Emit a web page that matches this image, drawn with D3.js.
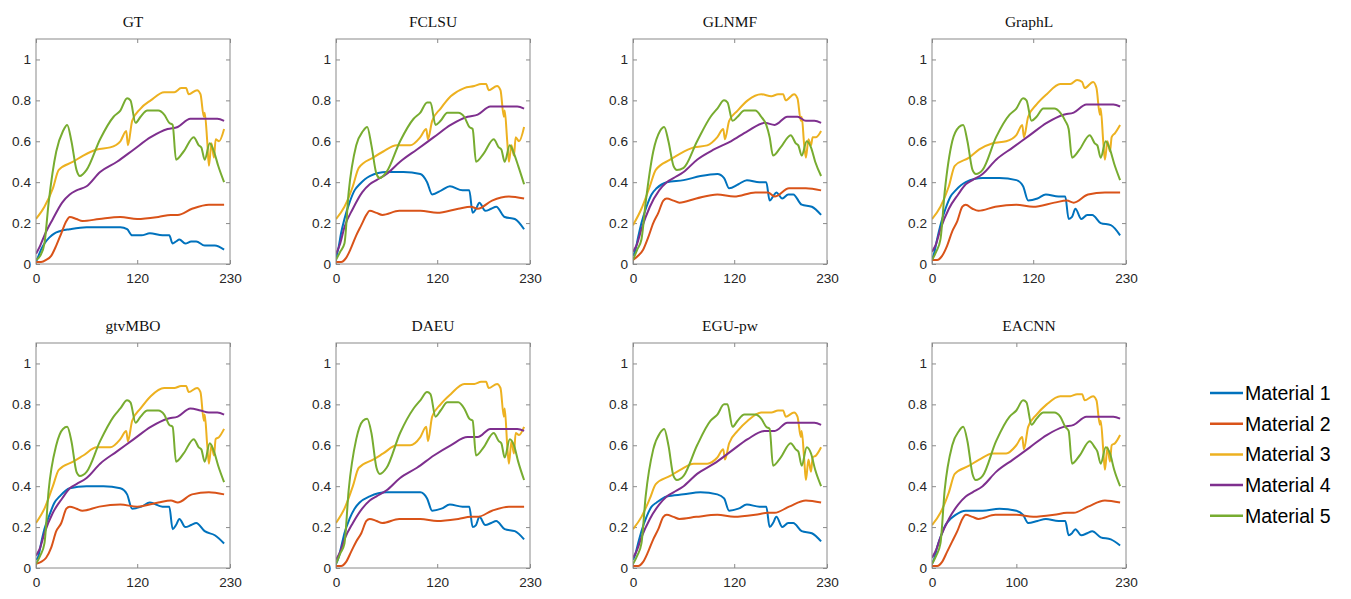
<!DOCTYPE html>
<html>
<head>
<meta charset="utf-8">
<script src="https://cdn.jsdelivr.net/npm/d3@7"></script>
<style>
  body { margin: 0; background: #fff; }
  .axis text { font-family: "Liberation Sans", Arial, sans-serif; font-size: 13.6px; fill: #262626; }
  .axis line { stroke: #8a8a8a; }
  .title { font-family: "Liberation Serif", "Times New Roman", serif; font-size: 15.5px; fill: #111; }
  .legend text { font-family: "Liberation Sans", Arial, sans-serif; font-size: 19.5px; fill: #000; }
</style>
</head>
<body>
<svg id="chart"></svg>
<script>
const panelTitles = ['GT', 'FCLSU', 'GLNMF', 'GraphL', 'gtvMBO', 'DAEU', 'EGU-pw', 'EACNN'];
const xTicks = [[0,120,230],[0,120,230],[0,120,230],[0,120,230],[0,120,230],[0,120,230],[0,120,230],[0,100,230]];
const yTicks = [0, 0.2, 0.4, 0.6, 0.8, 1];
const yTickLabels = ['0', '0.2', '0.4', '0.6', '0.8', '1'];
const materials = ['Material 1', 'Material 2', 'Material 3', 'Material 4', 'Material 5'];
const colors = ['#0072BD', '#D95319', '#EDB120', '#7E2F8E', '#77AC30'];

// sample positions (pixel index) for each material, shared by all panels
const m1X = [0, 3, 6, 10, 16, 22, 28, 40, 60, 80, 100, 108, 114, 125, 135, 150, 158, 162, 166, 170, 177, 184, 190, 200, 212, 223];
const m2X = [0, 6, 12, 18, 24, 30, 36, 40, 48, 55, 75, 100, 120, 145, 160, 168, 185, 205, 223];
const m3X = [0, 10, 20, 27, 44, 56, 72, 88, 100, 107, 109, 114, 124, 136, 152, 164, 172, 178, 181, 191, 195, 199, 200, 203, 205, 208, 211, 213, 217, 223];
const m4X = [0, 5, 10, 20, 31, 40, 48, 60, 76, 96, 116, 136, 156, 168, 183, 195, 205, 215, 223];
const m5X = [0, 5, 10, 15, 24, 32, 37, 42, 48, 52, 60, 76, 92, 100, 108, 112, 118, 124, 132, 145, 152, 158, 162, 166, 175, 187, 193, 196, 200, 206, 211, 216, 223];

// abundance values, one row per panel (same order as panelTitles)
const m1Vals = [
  [0.01,0.04,0.07,0.10,0.13,0.15,0.16,0.17,0.18,0.18,0.18,0.17,0.14,0.14,0.15,0.14,0.14,0.10,0.11,0.12,0.10,0.11,0.11,0.09,0.09,0.07],
  [0.03,0.08,0.15,0.22,0.30,0.36,0.39,0.43,0.45,0.45,0.44,0.40,0.34,0.36,0.38,0.36,0.36,0.25,0.27,0.30,0.26,0.27,0.28,0.23,0.22,0.17],
  [0.04,0.07,0.13,0.20,0.28,0.34,0.37,0.40,0.41,0.43,0.44,0.42,0.37,0.39,0.41,0.40,0.40,0.31,0.33,0.35,0.32,0.34,0.34,0.29,0.28,0.24],
  [0.02,0.06,0.12,0.19,0.27,0.33,0.36,0.40,0.42,0.42,0.41,0.38,0.31,0.32,0.34,0.33,0.33,0.22,0.23,0.27,0.22,0.24,0.24,0.20,0.19,0.14],
  [0.04,0.06,0.12,0.19,0.26,0.32,0.35,0.39,0.40,0.40,0.39,0.36,0.29,0.30,0.32,0.30,0.30,0.19,0.21,0.24,0.20,0.21,0.22,0.18,0.16,0.12],
  [0.02,0.05,0.10,0.17,0.24,0.29,0.32,0.35,0.37,0.37,0.37,0.34,0.28,0.29,0.31,0.30,0.30,0.20,0.21,0.25,0.21,0.22,0.23,0.19,0.18,0.14],
  [0.04,0.07,0.12,0.18,0.25,0.30,0.32,0.35,0.36,0.37,0.36,0.34,0.28,0.29,0.31,0.30,0.30,0.20,0.22,0.25,0.20,0.22,0.22,0.18,0.17,0.13],
  [0.02,0.05,0.10,0.15,0.21,0.24,0.26,0.28,0.28,0.29,0.28,0.26,0.22,0.23,0.24,0.23,0.23,0.16,0.17,0.19,0.16,0.17,0.18,0.15,0.14,0.11]
];
const m2Vals = [
  [0.01,0.01,0.02,0.04,0.09,0.15,0.21,0.23,0.22,0.21,0.22,0.23,0.22,0.23,0.24,0.24,0.27,0.29,0.29],
  [0.01,0.01,0.03,0.08,0.14,0.19,0.24,0.26,0.25,0.24,0.26,0.26,0.25,0.27,0.28,0.27,0.31,0.33,0.32],
  [0.02,0.04,0.07,0.13,0.20,0.25,0.31,0.32,0.31,0.30,0.32,0.34,0.33,0.35,0.35,0.33,0.37,0.37,0.36],
  [0.02,0.02,0.04,0.09,0.16,0.21,0.28,0.29,0.27,0.26,0.28,0.29,0.28,0.30,0.31,0.30,0.34,0.35,0.35],
  [0.02,0.03,0.05,0.10,0.18,0.22,0.29,0.30,0.29,0.28,0.30,0.31,0.30,0.32,0.33,0.32,0.36,0.37,0.36],
  [0.01,0.01,0.03,0.08,0.13,0.17,0.23,0.24,0.23,0.22,0.24,0.24,0.23,0.24,0.25,0.25,0.28,0.30,0.30],
  [0.01,0.01,0.03,0.08,0.14,0.19,0.25,0.26,0.25,0.24,0.25,0.26,0.25,0.26,0.27,0.27,0.30,0.33,0.32],
  [0.01,0.01,0.03,0.08,0.13,0.18,0.24,0.26,0.25,0.24,0.26,0.26,0.25,0.26,0.27,0.27,0.30,0.33,0.32]
];
const m3Vals = [
  [0.22,0.28,0.37,0.46,0.50,0.53,0.56,0.57,0.60,0.65,0.58,0.70,0.76,0.80,0.84,0.84,0.86,0.86,0.83,0.85,0.83,0.72,0.74,0.60,0.48,0.59,0.52,0.61,0.60,0.66],
  [0.22,0.28,0.38,0.47,0.52,0.55,0.58,0.58,0.62,0.66,0.61,0.70,0.76,0.82,0.86,0.87,0.88,0.88,0.85,0.87,0.85,0.72,0.75,0.60,0.50,0.58,0.53,0.62,0.60,0.67],
  [0.19,0.27,0.38,0.46,0.51,0.54,0.57,0.58,0.62,0.66,0.61,0.70,0.75,0.80,0.83,0.82,0.83,0.83,0.80,0.83,0.81,0.70,0.72,0.58,0.52,0.61,0.58,0.62,0.62,0.65],
  [0.22,0.28,0.38,0.48,0.52,0.56,0.59,0.60,0.63,0.68,0.62,0.72,0.78,0.83,0.88,0.88,0.90,0.89,0.86,0.89,0.86,0.73,0.76,0.60,0.51,0.60,0.55,0.62,0.64,0.68],
  [0.22,0.29,0.40,0.48,0.52,0.55,0.59,0.59,0.63,0.67,0.62,0.72,0.78,0.84,0.88,0.88,0.89,0.89,0.86,0.88,0.86,0.72,0.75,0.60,0.51,0.60,0.55,0.63,0.64,0.68],
  [0.22,0.29,0.40,0.49,0.53,0.56,0.60,0.60,0.64,0.69,0.62,0.74,0.80,0.85,0.90,0.90,0.91,0.91,0.88,0.90,0.88,0.74,0.78,0.60,0.51,0.62,0.56,0.66,0.65,0.69],
  [0.19,0.25,0.34,0.41,0.45,0.48,0.51,0.51,0.54,0.58,0.53,0.61,0.67,0.72,0.76,0.76,0.77,0.77,0.74,0.76,0.74,0.64,0.67,0.53,0.43,0.53,0.47,0.54,0.55,0.59],
  [0.21,0.27,0.37,0.46,0.50,0.53,0.56,0.56,0.60,0.64,0.58,0.69,0.75,0.80,0.84,0.84,0.85,0.85,0.82,0.84,0.82,0.70,0.72,0.58,0.48,0.59,0.52,0.60,0.61,0.65]
];
const m4Vals = [
  [0.05,0.09,0.14,0.22,0.30,0.34,0.36,0.38,0.45,0.50,0.56,0.62,0.66,0.67,0.71,0.71,0.71,0.71,0.70],
  [0.05,0.10,0.18,0.27,0.35,0.39,0.41,0.44,0.50,0.56,0.62,0.68,0.72,0.73,0.77,0.77,0.77,0.77,0.76],
  [0.06,0.10,0.17,0.28,0.36,0.40,0.42,0.45,0.51,0.56,0.60,0.65,0.69,0.68,0.72,0.72,0.70,0.70,0.69],
  [0.06,0.10,0.17,0.27,0.34,0.39,0.41,0.44,0.51,0.57,0.63,0.69,0.73,0.74,0.78,0.78,0.78,0.78,0.77],
  [0.06,0.10,0.17,0.27,0.34,0.39,0.41,0.44,0.51,0.57,0.63,0.69,0.73,0.74,0.78,0.77,0.76,0.76,0.75],
  [0.04,0.08,0.14,0.22,0.29,0.33,0.35,0.38,0.44,0.49,0.55,0.60,0.64,0.64,0.68,0.68,0.68,0.68,0.67],
  [0.05,0.09,0.15,0.24,0.31,0.35,0.37,0.40,0.46,0.51,0.57,0.63,0.67,0.67,0.71,0.71,0.71,0.71,0.70],
  [0.05,0.09,0.15,0.24,0.31,0.35,0.37,0.40,0.47,0.53,0.59,0.65,0.69,0.70,0.74,0.74,0.74,0.74,0.73]
];
const m5Vals = [
  [0.02,0.04,0.10,0.30,0.55,0.65,0.68,0.60,0.46,0.43,0.46,0.61,0.72,0.75,0.81,0.80,0.69,0.72,0.75,0.75,0.73,0.69,0.68,0.51,0.55,0.62,0.58,0.57,0.51,0.59,0.55,0.48,0.40],
  [0.02,0.06,0.10,0.35,0.58,0.65,0.67,0.58,0.44,0.42,0.45,0.60,0.71,0.74,0.79,0.79,0.68,0.70,0.74,0.74,0.72,0.67,0.66,0.50,0.54,0.61,0.57,0.56,0.50,0.58,0.54,0.48,0.39],
  [0.02,0.07,0.12,0.30,0.55,0.65,0.67,0.60,0.48,0.46,0.47,0.60,0.72,0.76,0.80,0.79,0.70,0.72,0.75,0.75,0.72,0.68,0.62,0.53,0.57,0.63,0.59,0.58,0.53,0.60,0.57,0.50,0.43],
  [0.02,0.06,0.12,0.35,0.60,0.67,0.68,0.60,0.46,0.44,0.46,0.62,0.73,0.76,0.81,0.80,0.70,0.72,0.76,0.76,0.74,0.70,0.66,0.52,0.56,0.63,0.59,0.58,0.52,0.60,0.56,0.49,0.41],
  [0.02,0.06,0.12,0.38,0.60,0.68,0.69,0.62,0.47,0.45,0.47,0.62,0.74,0.78,0.82,0.81,0.71,0.74,0.77,0.77,0.75,0.70,0.69,0.52,0.56,0.63,0.59,0.58,0.52,0.61,0.57,0.50,0.42],
  [0.02,0.07,0.12,0.38,0.63,0.72,0.73,0.66,0.49,0.46,0.49,0.66,0.78,0.82,0.86,0.85,0.74,0.77,0.81,0.81,0.78,0.73,0.72,0.55,0.59,0.66,0.62,0.61,0.54,0.63,0.60,0.52,0.43],
  [0.02,0.06,0.12,0.35,0.58,0.66,0.68,0.60,0.45,0.43,0.45,0.60,0.72,0.75,0.80,0.80,0.69,0.72,0.75,0.75,0.73,0.69,0.68,0.50,0.54,0.61,0.58,0.57,0.50,0.59,0.56,0.48,0.40],
  [0.02,0.06,0.12,0.38,0.60,0.67,0.69,0.62,0.46,0.43,0.45,0.62,0.74,0.77,0.82,0.81,0.70,0.73,0.76,0.76,0.74,0.69,0.67,0.51,0.55,0.62,0.59,0.57,0.51,0.59,0.56,0.48,0.40]
];

const seriesX = [m1X, m2X, m3X, m4X, m5X];
const seriesVals = [m1Vals, m2Vals, m3Vals, m4Vals, m5Vals];

class AbundancePanel {

  constructor(_config, _lines) {
    this.config = {
      parent: _config.parent,
      left: _config.left,
      top: _config.top,
      width: _config.width || 194,
      height: _config.height || 225,
      title: _config.title,
      xTicks: _config.xTicks,
      idx: _config.idx
    };
    this.lines = _lines;
    this.initVis();
  }

  initVis() {
    let vis = this;
    let w = vis.config.width, h = vis.config.height;

    vis.g = vis.config.parent.append('g')
      .attr('transform', `translate(${vis.config.left},${vis.config.top})`);

    vis.xScale = d3.scaleLinear().domain([0, 230]).range([0, w]);
    vis.yScale = d3.scaleLinear().domain([0, 1.1]).range([h, 0]);

    // MATLAB style: ticks pointing inwards on all four sides
    vis.g.append('g').attr('class', 'axis')
      .call(d3.axisLeft(vis.yScale).tickValues(yTicks).tickSize(-4).tickPadding(5)
        .tickFormat((d, i) => yTickLabels[i]))
      .call(g => g.select('.domain').remove());
    vis.g.append('g').attr('class', 'axis')
      .attr('transform', `translate(${w},0)`)
      .call(d3.axisRight(vis.yScale).tickValues(yTicks).tickSize(-4).tickFormat(''))
      .call(g => g.select('.domain').remove());
    vis.g.append('g').attr('class', 'axis')
      .attr('transform', `translate(0,${h})`)
      .call(d3.axisBottom(vis.xScale).tickValues(vis.config.xTicks).tickSize(-4).tickPadding(9))
      .call(g => g.select('.domain').remove());
    vis.g.append('g').attr('class', 'axis')
      .call(d3.axisTop(vis.xScale).tickValues(vis.config.xTicks).tickSize(-4).tickFormat(''))
      .call(g => g.select('.domain').remove());

    vis.g.append('clipPath').attr('id', 'clip' + vis.config.idx)
      .append('rect').attr('width', w).attr('height', h);

    vis.line = d3.line()
      .x(d => vis.xScale(d[0]))
      .y(d => vis.yScale(d[1]))
      .curve(d3.curveMonotoneX);

    vis.g.append('g')
      .attr('clip-path', `url(#clip${vis.config.idx})`)
      .selectAll('path')
      .data(vis.lines)
      .enter()
      .append('path')
        .attr('fill', 'none')
        .attr('stroke', (d, i) => colors[i])
        .attr('stroke-width', 2)
        .attr('stroke-linejoin', 'round')
        .attr('d', d => vis.line(d));

    vis.g.append('rect')
      .attr('width', w).attr('height', h)
      .attr('fill', 'none')
      .attr('stroke', '#8a8a8a')
      .attr('stroke-width', 1);

    vis.g.append('text')
      .attr('class', 'title')
      .attr('x', w / 2)
      .attr('y', -12)
      .attr('text-anchor', 'middle')
      .text(vis.config.title);
  }
}

const svg = d3.select('#chart').attr('width', 1351).attr('height', 599);

const colLefts = [36, 336, 633, 932];
const rowTops = [39, 343];

panelTitles.forEach((t, p) => {
  let lines = seriesX.map((xs, s) => xs.map((x, k) => [x, seriesVals[s][p][k]]));
  new AbundancePanel({
    parent: svg,
    left: colLefts[p % 4],
    top: rowTops[Math.floor(p / 4)],
    title: t,
    xTicks: xTicks[p],
    idx: p
  }, lines);
});

// legend
const legend = svg.append('g').attr('class', 'legend')
  .attr('transform', 'translate(1210,393)');
const item = legend.selectAll('g')
  .data(materials)
  .enter()
  .append('g')
    .attr('transform', (d, i) => `translate(0,${i * 30.7})`);
item.append('line')
  .attr('x1', 0).attr('x2', 33)
  .attr('stroke', (d, i) => colors[i])
  .attr('stroke-width', 2.5);
item.append('text')
  .attr('x', 35)
  .attr('dy', '0.35em')
  .text(d => d);
</script>
</body>
</html>
